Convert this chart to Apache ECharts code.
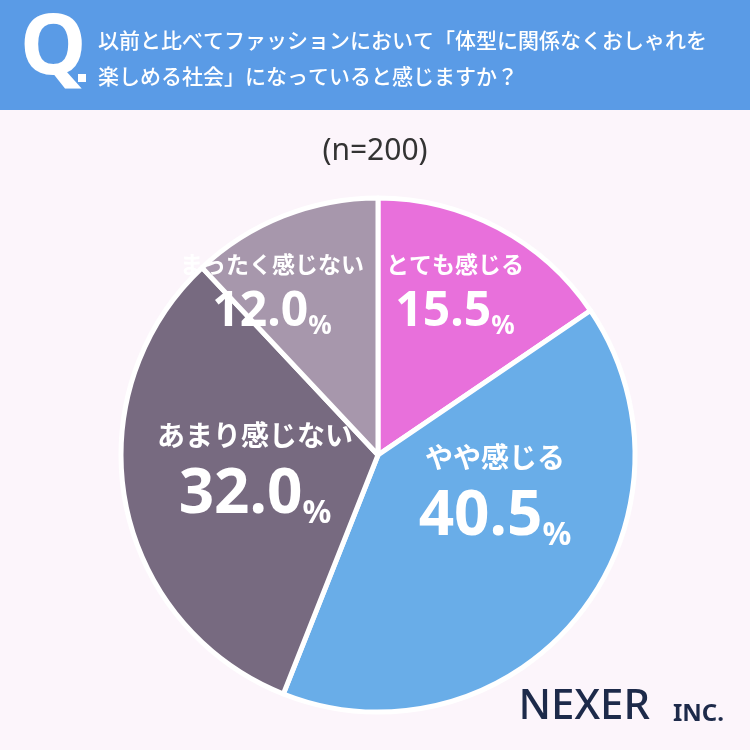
<!DOCTYPE html>
<html><head><meta charset="utf-8">
<script src="https://cdn.jsdelivr.net/npm/echarts@6/dist/echarts.min.js"></script>
<style>html,body{margin:0;padding:0;background:#fcf5fb;}#main{width:750px;height:750px;}</style>
</head><body><div id="main"></div>
<script>
// 回答データ
const categories = ['とても感じる', 'やや感じる', 'あまり感じない', 'まったく感じない'];
const values = [15.5, 40.5, 32.0, 12.0];
const colors = ['#e870db', '#69ade8', '#776a80', '#a797ac'];
// ラベル位置（中心点）
const labelPos = [[455, 292], [495, 492], [255, 470], [272, 292]];
const big = [false, true, true, false];

const chart = echarts.init(document.getElementById('main'));
const font = '"Noto Sans CJK JP", sans-serif';
const numFont = '"Noto Sans", sans-serif';

const option = {
  backgroundColor: '#fcf5fb',
  graphic: [
    { type: 'rect', shape: { x: 0, y: 0, width: 750, height: 110 }, style: { fill: '#5a9be6' } },
    { type: 'text', left: 20, top: 8, style: { text: 'Q', fill: '#fff', font: 'bold 84px ' + numFont } },
    { type: 'rect', shape: { x: 78, y: 74, width: 8, height: 8 }, style: { fill: '#fff' } },
    { type: 'text', left: 98, top: 22, style: { text: '以前と比べてファッションにおいて「体型に関係なくおしゃれを\n楽しめる社会」になっていると感じますか？', fill: '#fff', font: '500 21px ' + font, lineHeight: 36 } },
    { type: 'text', left: 'center', top: 136, style: { text: '(n=200)', fill: '#333', font: '30px ' + numFont } },
    { type: 'text', right: 100, top: 686, style: { text: 'NEXER', fill: '#1d2a4a', font: '500 42px ' + numFont } },
    { type: 'text', right: 26, top: 702, style: { text: 'INC.', fill: '#1d2a4a', font: 'bold 24px ' + numFont } }
  ],
  series: [{
    type: 'pie',
    center: [378, 455],
    radius: [0, 257],
    startAngle: 90,
    clockwise: true,
    silent: true,
    data: categories.map((name, i) => ({ name, value: values[i], itemStyle: { color: colors[i] } })),
    itemStyle: { borderColor: '#ffffff', borderWidth: 5 },
    label: {
      position: 'inside',
      formatter: p => {
        const b = big[p.dataIndex];
        return '{' + (b ? 'nb' : 'ns') + '|' + p.name + '}\n{' + (b ? 'vb' : 'vs') + '|' + p.value.toFixed(1) + '}{' + (b ? 'pb' : 'ps') + '|%}';
      },
      rich: {
        ns: { fontSize: 23, color: '#fff', fontFamily: font, fontWeight: 'bold', lineHeight: 40 },
        nb: { fontSize: 28, color: '#fff', fontFamily: font, fontWeight: 'bold', lineHeight: 50 },
        vs: { fontSize: 48, color: '#fff', fontFamily: numFont, fontWeight: 'bold', lineHeight: 56 },
        vb: { fontSize: 62, color: '#fff', fontFamily: numFont, fontWeight: 'bold', lineHeight: 70 },
        ps: { fontSize: 26, color: '#fff', fontFamily: numFont, fontWeight: 'bold', verticalAlign: 'bottom', lineHeight: 56 },
        pb: { fontSize: 32, color: '#fff', fontFamily: numFont, fontWeight: 'bold', verticalAlign: 'bottom', lineHeight: 70 }
      }
    },
    labelLine: { show: false },
    labelLayout: p => ({ x: labelPos[p.dataIndex][0], y: labelPos[p.dataIndex][1], align: 'center', verticalAlign: 'middle' })
  }]
};
chart.setOption(option);
</script>
</body></html>
